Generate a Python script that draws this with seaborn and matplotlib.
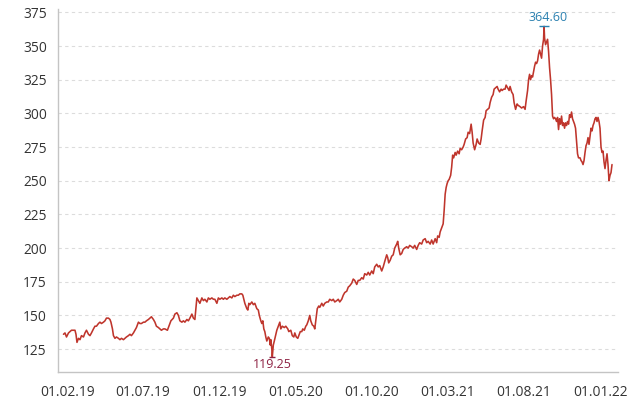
import seaborn as sns
import matplotlib.pyplot as plt
import matplotlib.dates as mdates
import pandas as pd

# -------------------------------
# 1. Data
# -------------------------------
# trading days counted from 01.02.2019 and the price on that day
start_date = "2019-02-01"
day_offset = [
    -9, -6, -3, 1, 4, 7, 11, 14, 16, 18, 21, 24, 27, 31, 34, 37, 41, 44, 47, 51,
    54, 57, 61, 64, 67, 71, 74, 77, 81, 84, 86, 89, 91, 94, 97, 101, 104, 107, 111, 114,
    117, 121, 124, 127, 131, 134, 137, 141, 144, 147, 151, 154, 157, 161, 164, 167, 171, 174, 177, 181,
    184, 187, 191,
    194, 199, 202, 206, 211, 214, 218, 221, 224, 228, 231, 234, 238, 241, 244, 248, 251, 254, 256, 258,
    261, 264, 268, 271, 274, 278, 281, 284, 288, 291, 294, 298, 301, 304, 308, 311, 314, 318, 321, 324,
    328, 331, 334, 338, 341, 344, 348, 350, 352, 354, 358, 360, 362, 364, 368, 371, 374, 378, 381, 383,
    386, 388, 390, 392, 394, 396, 398, 401, 403, 405, 406, 408, 409, 411, 413,
    418, 421, 424, 426, 429, 433, 436, 440, 442, 446, 449, 452, 454, 457, 460, 462, 465, 468, 470, 473,
    476, 478, 481, 484, 486, 489, 492, 494, 496, 499, 502, 504, 508, 511, 514, 518, 521, 524, 528, 531,
    534, 538, 541, 544, 548, 551, 554, 558, 561, 564, 568, 571, 574, 578, 581, 584, 588, 591, 594, 598,
    601, 604, 608, 611, 614, 618, 621, 624, 628, 631, 634, 638, 640, 642, 645, 648, 651, 654, 658, 660,
    662, 665, 668, 671, 674, 678, 681, 684, 688, 691, 694, 698, 701, 704, 708, 711,
    715, 718, 721, 725, 728, 731, 735, 738, 740, 743, 745, 748, 751, 753, 755, 757, 759, 761, 763, 766,
    768, 770, 772, 775, 777, 780, 783, 785, 788, 791, 793, 796, 799, 801, 804, 807, 809, 811, 814, 817,
    819, 822, 825, 827, 829, 832, 835, 837, 840, 843, 845, 848, 851, 853, 856, 859, 861, 864, 867, 869,
    872, 875, 877, 880, 883, 885, 888, 891, 893, 896, 899, 901,
    905, 908, 912, 915, 917, 920, 922, 924, 926, 928, 930, 932, 934, 936, 938, 940, 942, 944, 946, 948,
    950, 952, 953, 954, 956, 958, 960, 962, 964, 966, 968, 970, 972, 974, 976, 978, 980, 982, 984, 986,
    988, 990, 992, 994, 996, 998, 1000, 1002, 1004, 1006, 1008, 1010, 1012, 1014, 1016, 1018, 1020, 1022, 1025, 1027,
    1029, 1031, 1033, 1035, 1037, 1039, 1041, 1043, 1045, 1047, 1049, 1051, 1053, 1055, 1057, 1059, 1061, 1063, 1065, 1067,
    1069, 1071, 1073, 1075, 1077, 1079, 1081, 1083, 1085, 1087, 1089,
]
price = [
    136, 137, 134, 137, 138, 139, 139, 139, 136, 130, 133, 132, 135, 134, 137, 139, 136, 135, 137, 140,
    142, 142, 144, 145, 144, 145, 146, 148, 148, 147, 145, 140, 135, 133, 134, 133, 132, 133, 132, 133,
    134, 135, 136, 135, 137, 139, 141, 145, 144, 144, 145, 145, 146, 147, 148, 149, 147, 145, 142, 141,
    140, 139, 140,
    140, 139, 142, 146, 148, 151, 152, 150, 146, 145, 146, 145, 147, 146, 148, 151, 148, 147, 155, 163,
    161, 159, 163, 161, 162, 160, 163, 162, 163, 162, 162, 159, 163, 162, 163, 162, 163, 162, 163, 164,
    163, 165, 164, 165, 165, 166, 166, 165, 162, 159, 155, 154, 159, 158, 160, 158, 159, 155, 154, 150,
    146, 144, 146, 140, 138, 134, 131, 134, 133, 128, 132, 125, 119.25, 128, 131,
    139, 142, 145, 140, 142, 141, 142, 140, 138, 139, 135, 134, 137, 134, 133, 135, 138, 138, 140, 139,
    142, 143, 146, 150, 146, 143, 142, 140, 146, 155, 157, 156, 159, 157, 159, 160, 160, 162, 161, 162,
    160, 161, 162, 160, 162, 165, 167, 168, 171, 172, 174, 177, 176, 173, 176, 176, 178, 177, 181, 180,
    182, 180, 183, 181, 186, 188, 186, 187, 183, 186, 190, 195, 193, 189, 191, 194, 195, 200, 203, 205,
    200, 195, 196, 199, 200, 201, 200, 202, 201, 200, 202, 199, 202, 204, 203, 206,
    207, 204, 205, 203, 206, 203, 207, 204, 209, 208, 212, 215, 218, 228, 240, 245, 248, 250, 251, 254,
    260, 269, 267, 271, 269, 272, 270, 274, 273, 275, 277, 281, 282, 286, 285, 292, 286, 278, 273, 277,
    281, 278, 277, 281, 287, 295, 297, 302, 303, 304, 308, 312, 314, 318, 319, 320, 318, 316, 318, 317,
    318, 318, 321, 319, 317, 320, 316, 314, 308, 303, 307, 306,
    305, 304, 305, 303, 309, 317, 325, 329, 325, 328, 327, 331, 335, 338, 337, 339, 344, 347, 344, 341,
    350, 355, 364.60, 356, 351, 353, 355, 346, 334, 325, 314, 298, 296, 297, 296, 294, 297, 288, 296, 292,
    298, 291, 293, 289, 293, 291, 294, 292, 299, 297, 301, 296, 294, 292, 289, 280, 270, 267, 267, 265,
    264, 262, 265, 271, 276, 278, 282, 277, 283, 289, 287, 291, 293, 296, 297, 294, 297, 294, 289, 275,
    271, 272, 264, 259, 265, 270, 262, 250, 254, 256, 262,
]

tick_dates = ["2019-02-01", "2019-07-01", "2019-12-01", "2020-05-01",
              "2020-10-01", "2021-03-01", "2021-08-01", "2022-01-01"]
y_ticks = [125, 150, 175, 200, 225, 250, 275, 300, 325, 350, 375]

df = pd.DataFrame({
    "Date": pd.Timestamp(start_date) + pd.to_timedelta(day_offset, unit="D"),
    "Price": price,
})

# -------------------------------
# 2. Style
# -------------------------------
sns.set_style("white")
plt.rcParams["font.family"] = ["Open Sans", "DejaVu Sans"]

line_color = "#bf352c"
text_color = "#333333"
hi_color = "#2a80b0"
lo_color = "#8e2344"

fig = plt.figure(figsize=(6.43, 4.08), dpi=100)
ax = fig.add_axes([58 / 643, 1 - 372 / 408, 560 / 643, 363 / 408])

# -------------------------------
# 3. Line
# -------------------------------
sns.lineplot(data=df, x="Date", y="Price", color=line_color, linewidth=1.15, ax=ax)

# high / low markers
hi = df.loc[df["Price"].idxmax()]
lo = df.loc[df["Price"].idxmin()]
ax.plot(hi["Date"], hi["Price"], marker="_", markersize=7, mew=1.0, color=hi_color)
ax.plot(lo["Date"], lo["Price"], marker="_", markersize=5, mew=1.0, color=lo_color)
ax.annotate(f"{hi['Price']:.2f}", (hi["Date"], hi["Price"]), xytext=(4, 2),
            textcoords="offset pixels", ha="center", va="bottom",
            fontsize=9, color=hi_color)
ax.annotate(f"{lo['Price']:.2f}", (lo["Date"], lo["Price"]), xytext=(0, -1),
            textcoords="offset pixels", ha="center", va="top",
            fontsize=9, color=lo_color)

# -------------------------------
# 4. Axes
# -------------------------------
ax.set_xlim(pd.Timestamp("2019-01-12"), pd.Timestamp("2022-02-06"))
ax.set_ylim(108, 377.5)
ax.set_xticks(pd.to_datetime(tick_dates))
ax.xaxis.set_major_formatter(mdates.DateFormatter("%d.%m.%y"))
ax.set_yticks(y_ticks)
ax.set_xlabel("")
ax.set_ylabel("")
ax.tick_params(axis="both", length=0, labelsize=9.9, labelcolor=text_color)
ax.tick_params(axis="y", pad=8)
ax.tick_params(axis="x", pad=9)

ax.grid(axis="y", color="#dcdcdc", linestyle=(0, (3, 3)), linewidth=0.8)
ax.set_axisbelow(True)
for side in ["top", "right"]:
    ax.spines[side].set_visible(False)
for side in ["left", "bottom"]:
    ax.spines[side].set_color("#c4c4c4")
    ax.spines[side].set_linewidth(1.0)

# -------------------------------
# 5. Save
# -------------------------------
fig.savefig("out.png", dpi=100)
